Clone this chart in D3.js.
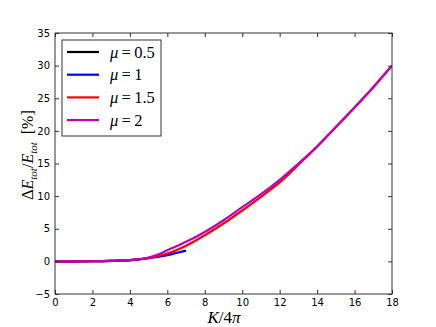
<!DOCTYPE html>
<html>
<head>
<meta charset="utf-8">
<script src="https://cdn.jsdelivr.net/npm/d3@7"></script>
<style>
  body { margin: 0; background: #fff; }
  svg text { font-family: "DejaVu Sans", sans-serif; }
</style>
</head>
<body>
<div id="chart"></div>
<script>
// data
const seriesNames = ["0.5", "1", "1.5", "2"];
const colors = ["#000000", "#0000ff", "#ff0000", "#bf00bf"];

const kBlack = [0, 1, 2, 3, 4, 4.5];
const vBlack = [0, 0, 0.02, 0.08, 0.2, 0.32];

const kBlue = [0, 1, 2, 3, 4, 5, 5.5, 6, 6.5, 7];
const vBlue = [0, 0, 0.02, 0.08, 0.2, 0.5, 0.7, 0.95, 1.3, 1.65];

const kRed = [0, 1, 2, 3, 4, 5, 5.5, 6, 7, 8, 9, 10, 11, 12, 13, 14, 15, 16, 17, 18];
const vRed = [0, 0, 0.02, 0.08, 0.2, 0.5, 0.8, 1.2, 2.4, 4.0, 5.8, 7.8, 9.9, 12.1, 14.8, 17.6, 20.6, 23.6, 26.7, 30.0];

const kMag = [0, 1, 2, 3, 4, 5, 5.5, 6, 7, 8, 9, 10, 11, 12, 13, 14, 15, 16, 17, 18];
const vMag = [0, 0, 0.02, 0.08, 0.2, 0.6, 1.05, 1.7, 3.0, 4.5, 6.3, 8.3, 10.3, 12.5, 15.0, 17.6, 20.6, 23.6, 26.7, 30.0];

const xTicks = [0, 2, 4, 6, 8, 10, 12, 14, 16, 18];
const yTicks = [-5, 0, 5, 10, 15, 20, 25, 30, 35];

const margin = { top: 33, right: 44, bottom: 33, left: 55 };
const W = 436, H = 327;
const width = W - margin.left - margin.right;
const height = H - margin.top - margin.bottom;

const svg = d3.select("#chart")
  .append("svg")
  .attr("width", W)
  .attr("height", H);

const g = svg.append("g")
  .attr("transform", `translate(${margin.left},${margin.top})`);

const x = d3.scaleLinear().domain([0, 18]).range([0, width]);
const y = d3.scaleLinear().domain([-5, 35]).range([height, 0]);

// curves
const series = [
  { k: kBlack, v: vBlack },
  { k: kBlue, v: vBlue },
  { k: kRed, v: vRed },
  { k: kMag, v: vMag }
];

const line = d3.line()
  .x(d => x(d[0]))
  .y(d => y(d[1]))
  .curve(d3.curveMonotoneX);

g.append("clipPath").attr("id", "clip")
  .append("rect").attr("width", width).attr("height", height);

g.append("g").attr("clip-path", "url(#clip)")
  .selectAll("path")
  .data(series)
  .enter().append("path")
  .attr("d", s => line(s.k.map((k, i) => [k, s.v[i]])))
  .attr("fill", "none")
  .attr("stroke", (s, i) => colors[i])
  .attr("stroke-width", 2.2)
  .attr("stroke-linejoin", "round");

// axes, ticks inward on all sides
const tickStyle = sel => {
  sel.select(".domain").remove();
  sel.selectAll(".tick line").attr("stroke", "#333");
  sel.selectAll("text").attr("font-size", 10).attr("fill", "#000");
};

g.append("g")
  .attr("transform", `translate(0,${height})`)
  .call(d3.axisBottom(x).tickValues(xTicks).tickSizeInner(-4).tickPadding(3))
  .call(tickStyle)
  .selectAll("text").attr("dy", "0.9em");

g.append("g")
  .call(d3.axisTop(x).tickValues(xTicks).tickSizeInner(-4).tickFormat(""))
  .call(tickStyle);

g.append("g")
  .call(d3.axisLeft(y).tickValues(yTicks).tickSizeInner(-4).tickPadding(5)
    .tickFormat(d => d < 0 ? "\u2212" + Math.abs(d) : d))
  .call(tickStyle);

g.append("g")
  .attr("transform", `translate(${width},0)`)
  .call(d3.axisRight(y).tickValues(yTicks).tickSizeInner(-4).tickFormat(""))
  .call(tickStyle);

g.append("rect")
  .attr("width", width)
  .attr("height", height)
  .attr("fill", "none")
  .attr("stroke", "#333")
  .attr("stroke-width", 1);

// legend
const leg = g.append("g").attr("transform", "translate(7,7)");
leg.append("rect")
  .attr("width", 99)
  .attr("height", 96)
  .attr("fill", "#fff")
  .attr("stroke", "#333")
  .attr("stroke-width", 1);

const items = leg.selectAll(".item")
  .data(seriesNames)
  .enter().append("g")
  .attr("transform", (d, i) => `translate(0,${12 + i * 22.7})`);

items.append("line")
  .attr("x1", 5).attr("x2", 37)
  .attr("stroke", (d, i) => colors[i])
  .attr("stroke-width", 2.2);

const lt = items.append("text")
  .attr("x", 48)
  .attr("y", 5.5)
  .style("font-family", "'Liberation Serif', serif")
  .attr("font-size", 16.5);
lt.append("tspan").attr("font-style", "italic").text("\u03bc");
lt.append("tspan").text(d => "\u2009=\u2009" + d);

// axis labels
const xl = svg.append("text")
  .attr("x", 224)
  .attr("y", 323)
  .attr("text-anchor", "middle")
  .style("font-family", "'Liberation Serif', serif")
  .attr("font-size", 17);
xl.append("tspan").attr("font-style", "italic").text("K");
xl.append("tspan").text("/4");
xl.append("tspan").attr("font-style", "italic").text("\u03c0");

const yl = svg.append("text")
  .attr("transform", "translate(33,155) rotate(-90)")
  .attr("text-anchor", "middle")
  .style("font-family", "'Liberation Serif', serif")
  .attr("font-size", 16);
yl.append("tspan").text("\u0394");
yl.append("tspan").attr("font-style", "italic").text("E");
yl.append("tspan").attr("font-style", "italic").attr("font-size", 11).attr("dy", 4).text("tot");
yl.append("tspan").attr("dy", -4).text("/");
yl.append("tspan").attr("font-style", "italic").text("E");
yl.append("tspan").attr("font-style", "italic").attr("font-size", 11).attr("dy", 4).text("tot");
yl.append("tspan").attr("dy", -4).text("\u2002[%]");
</script>
</body>
</html>
